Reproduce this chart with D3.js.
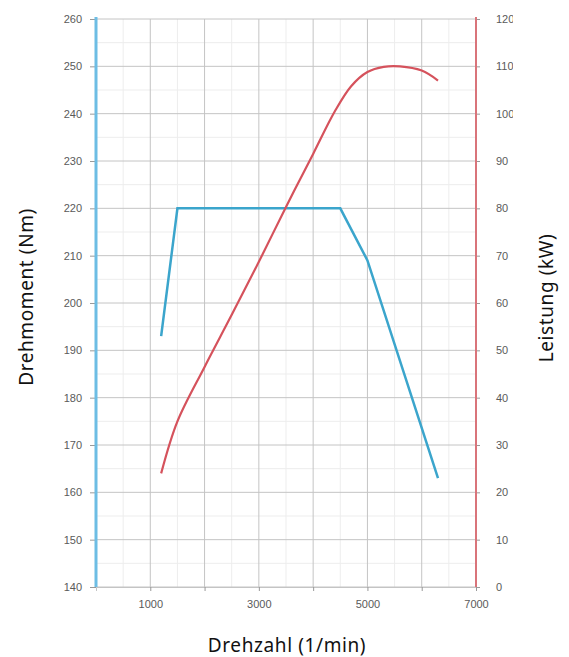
<!DOCTYPE html>
<html lang="en">
<head>
  <meta charset="UTF-8">
  <title>Drehmoment / Leistung</title>
  <script src="https://d3js.org/d3.v7.min.js"></script>
  <style>
    * { margin: 0; padding: 0; box-sizing: border-box; }
    body { background: #fff; width: 569px; height: 657px; overflow: hidden; }
    .tick-label { font-family: 'Liberation Sans', Arial, sans-serif; font-size: 11px; fill: #5a5a5a; }
    .title { font-family: 'Noto Sans', sans-serif; font-size: 19px; letter-spacing: 0.6px; fill: #111; }
  </style>
</head>
<body>
  <svg id="chart" width="569" height="657"></svg>

  <script>
    // torque curve (Nm)
    const torqueRpm = [1200, 1500, 4500, 5000, 6300];
    const torqueNm = [193, 220, 220, 209, 163];

    // power curve (kW)
    const powerRpm = [1200, 1500, 2000, 2500, 3000, 3500, 4000, 4400, 4700, 5000, 5300, 5600, 6000, 6300];
    const powerKw = [24, 35, 46.5, 57.5, 68.7, 80.3, 91.5, 100.5, 105.8, 108.8, 109.9, 110, 109.1, 107];

    const xTicks = [1000, 3000, 5000, 7000];
    const torqueTicks = [140, 150, 160, 170, 180, 190, 200, 210, 220, 230, 240, 250, 260];
    const powerTicks = [0, 10, 20, 30, 40, 50, 60, 70, 80, 90, 100, 110, 120];

    const mLeft = 96, mRight = 476, mTop = 19, mBottom = 587;
    const svg = d3.select("#chart");

    const x = d3.scaleLinear().domain([0, 7000]).range([mLeft, mRight]);
    const yT = d3.scaleLinear().domain([140, 260]).range([mBottom, mTop]);
    const yP = d3.scaleLinear().domain([0, 120]).range([mBottom, mTop]);

    const grid = svg.append("g");
    // minor grid
    grid.selectAll(".hmin").data(d3.range(145, 260, 10)).enter().append("line")
      .attr("x1", mLeft).attr("x2", mRight)
      .attr("y1", d => yT(d)).attr("y2", d => yT(d))
      .attr("stroke", "#ededed").attr("stroke-width", 1);
    grid.selectAll(".vmin").data(d3.range(500, 7000, 1000)).enter().append("line")
      .attr("y1", mTop).attr("y2", mBottom)
      .attr("x1", d => x(d)).attr("x2", d => x(d))
      .attr("stroke", "#ededed").attr("stroke-width", 1);
    // major grid
    grid.selectAll(".hmaj").data(torqueTicks).enter().append("line")
      .attr("x1", mLeft).attr("x2", mRight)
      .attr("y1", d => yT(d)).attr("y2", d => yT(d))
      .attr("stroke", "#c4c4c4").attr("stroke-width", 1);
    grid.selectAll(".vmaj").data(d3.range(1000, 7000, 1000)).enter().append("line")
      .attr("y1", mTop).attr("y2", mBottom)
      .attr("x1", d => x(d)).attr("x2", d => x(d))
      .attr("stroke", "#c4c4c4").attr("stroke-width", 1);

    // left axis
    const leftAxis = svg.append("g").attr("transform", `translate(${mLeft},0)`)
      .call(d3.axisLeft(yT).tickValues(torqueTicks).tickSize(6).tickPadding(8));
    leftAxis.select(".domain").remove();
    leftAxis.selectAll(".tick line").attr("stroke", "#999");
    leftAxis.selectAll(".tick text").attr("class", "tick-label");
    svg.append("line").attr("x1", mLeft).attr("x2", mLeft).attr("y1", mTop - 2).attr("y2", mBottom)
      .attr("stroke", "#6dbde4").attr("stroke-width", 3);

    // right axis (labels cut off at the edge of the picture)
    svg.append("clipPath").attr("id", "rclip").append("rect")
      .attr("x", 0).attr("y", 0).attr("width", 37).attr("height", 657);
    const rightAxis = svg.append("g").attr("transform", `translate(${mRight},0)`)
      .attr("clip-path", "url(#rclip)")
      .call(d3.axisRight(yP).tickValues(powerTicks).tickSize(4).tickPadding(16));
    rightAxis.select(".domain").remove();
    rightAxis.selectAll(".tick line").attr("stroke", "#999");
    rightAxis.selectAll(".tick text").attr("class", "tick-label");
    svg.append("line").attr("x1", mRight).attr("x2", mRight).attr("y1", mTop - 2).attr("y2", mBottom)
      .attr("stroke", "#d9747a").attr("stroke-width", 2);

    // bottom axis
    const bottomAxis = svg.append("g").attr("transform", `translate(0,${mBottom})`)
      .call(d3.axisBottom(x).tickValues(d3.range(1000, 8000, 1000)).tickSize(4).tickPadding(9)
        .tickFormat(d => xTicks.includes(d) ? d : ""));
    bottomAxis.select(".domain").attr("stroke", "#c4c4c4");
    bottomAxis.selectAll(".tick line").attr("stroke", "#999");
    bottomAxis.selectAll(".tick text").attr("class", "tick-label");

    // lines
    const torqueData = torqueRpm.map((r, i) => ({ r, v: torqueNm[i] }));
    const powerData = powerRpm.map((r, i) => ({ r, v: powerKw[i] }));

    svg.append("path").datum(torqueData)
      .attr("d", d3.line().x(d => x(d.r)).y(d => yT(d.v)))
      .attr("fill", "none").attr("stroke", "#3ba5cc").attr("stroke-width", 2.5);

    svg.append("path").datum(powerData)
      .attr("d", d3.line().curve(d3.curveCatmullRom.alpha(0.5)).x(d => x(d.r)).y(d => yP(d.v)))
      .attr("fill", "none").attr("stroke", "#d5525c").attr("stroke-width", 2.2);

    // titles
    svg.append("text").attr("class", "title")
      .attr("transform", "translate(33,297) rotate(-90)")
      .attr("text-anchor", "middle").text("Drehmoment (Nm)");
    svg.append("text").attr("class", "title")
      .attr("transform", "translate(553,298) rotate(-90)")
      .attr("text-anchor", "middle").text("Leistung (kW)");
    svg.append("text").attr("class", "title")
      .attr("x", 287).attr("y", 652)
      .attr("text-anchor", "middle").text("Drehzahl (1/min)");
  </script>
</body>
</html>
